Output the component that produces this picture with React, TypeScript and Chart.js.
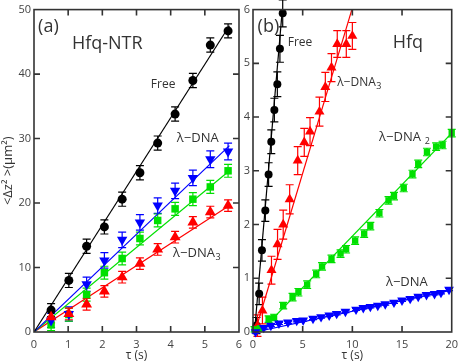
import React, { useEffect, useRef } from "react";
import { Chart, registerables } from "chart.js";
Chart.register(...registerables);

// ---------- Panel (a): Hfq-NTR ----------
const tauA = [0.5, 1.02, 1.54, 2.06, 2.58, 3.1, 3.62, 4.13, 4.65, 5.16, 5.68];
const freeA = [3.4, 8.0, 13.3, 16.3, 20.6, 24.7, 29.3, 33.8, 39.0, 44.5, 46.7];
const freeAErr = [1.0, 1.1, 1.1, 1.1, 1.1, 1.1, 1.1, 1.1, 1.1, 1.1, 1.1];
const dnaA = [1.8, 2.8, 7.4, 11.1, 14.3, 17.0, 19.6, 21.9, 23.9, 26.8, 28.0];
const dnaAErr = [1.1, 1.1, 1.1, 1.2, 1.2, 1.2, 1.2, 1.2, 1.2, 1.3, 1.3];
const dna2A = [1.1, 2.7, 5.8, 9.2, 11.4, 14.5, 17.3, 19.1, 20.6, 22.5, 25.0];
const dna2AErr = [0.9, 1.0, 1.0, 1.0, 1.0, 1.0, 1.0, 1.0, 1.0, 1.0, 1.0];
const dna3A = [2.3, 2.8, 4.3, 6.3, 8.5, 10.6, 12.8, 14.7, 17.0, 18.6, 19.6];
const dna3AErr = [0.9, 0.9, 0.9, 0.9, 0.9, 0.9, 0.9, 0.9, 0.9, 0.9, 0.9];
const fitXA = [0, 5.72];
const fitFreeA = [0, 47.5];
const fitDnaA = [0, 28.9];
const fitDna2A = [0, 25.0];
const fitDna3A = [0, 19.6];

// ---------- Panel (b): Hfq ----------
const tauFreeB = [0.35, 0.62, 0.9, 1.24, 1.57, 1.84, 2.15, 2.45, 2.71, 2.99];
const freeB = [0.12, 0.71, 1.52, 2.26, 2.93, 3.54, 4.13, 4.61, 5.27, 5.93];
const freeBErr = [0.15, 0.2, 0.2, 0.2, 0.22, 0.22, 0.22, 0.23, 0.25, 0.25];
const tauDna3B = [0.45, 0.95, 1.86, 2.47, 3.04, 3.69, 4.5, 5.16, 5.74, 6.69, 7.28, 7.9, 8.48, 9.39, 10.0];
const dna3B = [0.12, 0.4, 1.15, 1.63, 2.0, 2.47, 3.19, 3.53, 3.73, 4.1, 4.56, 4.92, 5.36, 5.36, 5.51];
const dna3BErr = [0.2, 0.25, 0.26, 0.28, 0.27, 0.27, 0.26, 0.26, 0.26, 0.27, 0.27, 0.26, 0.25, 0.25, 0.25];
const tauDna2B = [0.15, 0.7, 1.57, 2.12, 3.04, 3.98, 4.57, 5.45, 6.36, 6.95, 7.9, 8.81, 9.37, 10.28, 11.19, 11.81, 12.72, 13.64, 14.19, 15.17, 16.05, 16.63, 17.51, 18.43, 19.08, 20.0];
const dna2B = [0.05, 0.07, 0.24, 0.27, 0.49, 0.65, 0.74, 0.88, 1.08, 1.22, 1.36, 1.46, 1.54, 1.7, 1.83, 1.97, 2.21, 2.45, 2.53, 2.68, 2.94, 3.13, 3.35, 3.45, 3.48, 3.7];
const dna2BErr = [0.05, 0.05, 0.06, 0.06, 0.06, 0.07, 0.07, 0.07, 0.07, 0.07, 0.07, 0.07, 0.07, 0.07, 0.07, 0.07, 0.07, 0.07, 0.07, 0.07, 0.07, 0.07, 0.07, 0.07, 0.07, 0.07];
const tauDnaB = [0.26, 1.08, 1.8, 2.61, 3.52, 4.4, 5.05, 6.04, 6.85, 7.67, 8.42, 9.3, 10.37, 11.1, 11.81, 12.56, 13.31, 14.19, 15.0, 15.82, 16.63, 17.46, 18.27, 18.92, 19.73];
const dnaB = [0.0, 0.08, 0.12, 0.16, 0.18, 0.21, 0.22, 0.25, 0.28, 0.31, 0.34, 0.38, 0.42, 0.45, 0.47, 0.49, 0.52, 0.55, 0.59, 0.62, 0.66, 0.69, 0.71, 0.73, 0.79];
const dnaBErr = [0.02, 0.02, 0.02, 0.02, 0.02, 0.02, 0.02, 0.02, 0.02, 0.02, 0.02, 0.02, 0.02, 0.02, 0.02, 0.02, 0.02, 0.02, 0.02, 0.02, 0.02, 0.02, 0.02, 0.02, 0.02];
const fitXFreeB = [0.15, 2.95];
const fitFreeB = [0, 6];
const fitXDna3B = [0.2, 9.95];
const fitDna3B = [0, 6];
const fitXDna2B = [0.7, 20];
const fitDna2B = [0, 3.7];
const fitXDnaB = [0.2, 20];
const fitDnaB = [0, 0.78];

const BLACK = "#000000";
const BLUE = "#0000ff";
const GREEN = "#00e000";
const RED = "#ff0000";
const FRAME = "#333333";
const TEXT = "#333333";
const FONT = "'Open Sans', sans-serif";

const pts = (xs: number[], ys: number[]) => xs.map((x, i) => ({ x, y: ys[i] }));

function markers(label: string, xs: number[], ys: number[], err: number[], color: string, style: string, r: number, order: number, rotation = 0) {
  return {
    label, data: pts(xs, ys), errors: err, showLine: false,
    pointStyle: style, pointRadius: r, pointRotation: rotation,
    backgroundColor: color, borderColor: color, pointBorderWidth: 0,
    order, clip: false,
  } as any;
}
function fit(xs: number[], ys: number[], color: string) {
  return {
    label: "fit", data: pts(xs, ys), showLine: true, pointRadius: 0,
    borderColor: color, borderWidth: 1.2, order: 20, errors: null,
  } as any;
}

const errorBarPlugin = {
  id: "errbars",
  beforeDatasetsDraw(chart: any) {
    const { ctx } = chart;
    const xs = chart.scales.x, ys = chart.scales.y;
    chart.data.datasets.forEach((ds: any) => {
      if (!ds.errors) return;
      const cap = 4;
      ctx.save();
      ctx.strokeStyle = ds.borderColor;
      ctx.lineWidth = 1.2;
      ds.data.forEach((p: any, j: number) => {
        const x = xs.getPixelForValue(p.x);
        const y1 = ys.getPixelForValue(p.y - ds.errors[j]);
        const y2 = ys.getPixelForValue(p.y + ds.errors[j]);
        ctx.beginPath();
        ctx.moveTo(x, y1); ctx.lineTo(x, y2);
        ctx.moveTo(x - cap, y1); ctx.lineTo(x + cap, y1);
        ctx.moveTo(x - cap, y2); ctx.lineTo(x + cap, y2);
        ctx.stroke();
      });
      ctx.restore();
    });
  },
};

type Note = { text: string; sub?: string; x: number; y: number; size: number };

function framePlugin(notes: Note[]) {
  return {
    id: "frame",
    afterDraw(chart: any) {
      const { ctx, chartArea: a } = chart;
      const xs = chart.scales.x, ys = chart.scales.y;
      ctx.save();
      ctx.strokeStyle = FRAME;
      ctx.lineWidth = 1.6;
      ctx.strokeRect(a.left, a.top, a.right - a.left, a.bottom - a.top);
      const L = 6;
      ctx.beginPath();
      xs.ticks.forEach((t: any) => {
        const px = xs.getPixelForValue(t.value);
        if (px <= a.left + 1 || px >= a.right - 1) return;
        ctx.moveTo(px, a.bottom); ctx.lineTo(px, a.bottom - L);
        ctx.moveTo(px, a.top); ctx.lineTo(px, a.top + L);
      });
      ys.ticks.forEach((t: any) => {
        const py = ys.getPixelForValue(t.value);
        if (py <= a.top + 1 || py >= a.bottom - 1) return;
        ctx.moveTo(a.left, py); ctx.lineTo(a.left + L, py);
        ctx.moveTo(a.right, py); ctx.lineTo(a.right - L, py);
      });
      ctx.stroke();
      ctx.fillStyle = TEXT;
      ctx.textBaseline = "middle";
      ctx.textAlign = "left";
      notes.forEach((n) => {
        const px = xs.getPixelForValue(n.x);
        const py = ys.getPixelForValue(n.y);
        ctx.font = `${n.size}px ${FONT}`;
        ctx.fillText(n.text, px, py);
        if (n.sub) {
          const w = ctx.measureText(n.text).width;
          ctx.font = `${Math.round(n.size * 0.72)}px ${FONT}`;
          ctx.fillText(n.sub, px + w + 0.5, py + n.size * 0.3);
        }
      });
      ctx.restore();
    },
  };
}

function makeConfig(datasets: any[], xmax: number, xstep: number, ymax: number, ystep: number, yAxisWidth: number, padRight: number, yTitle: string | null, notes: Note[]) {
  const tickFont = { family: FONT, size: 11 };
  return {
    type: "scatter",
    data: { datasets },
    options: {
      responsive: false,
      animation: false,
      events: [],
      layout: { padding: { top: 7, right: padRight, bottom: 0, left: 0 } },
      plugins: { legend: { display: false }, tooltip: { enabled: false } },
      scales: {
        x: {
          type: "linear", min: 0, max: xmax,
          grid: { display: false, drawTicks: false },
          border: { display: false },
          ticks: { stepSize: xstep, padding: 6, color: "#444", font: tickFont, maxRotation: 0 },
          title: { display: true, text: "τ (s)", color: TEXT, font: { family: FONT, size: 12 }, padding: { top: 0, bottom: 0 } },
          afterFit: (s: any) => { s.height = 31; },
        },
        y: {
          type: "linear", min: 0, max: ymax,
          grid: { display: false, drawTicks: false },
          border: { display: false },
          ticks: { stepSize: ystep, padding: 3, color: "#444", font: tickFont },
          title: yTitle ? { display: true, text: yTitle, color: TEXT, font: { family: FONT, size: 13 }, padding: { top: 0, bottom: 0 } } : { display: false },
          afterFit: (s: any) => { s.width = yAxisWidth; },
        },
      },
    },
    plugins: [errorBarPlugin, framePlugin(notes)],
  } as any;
}

function Panel({ left, width, config }: { left: number; width: number; config: any }) {
  const ref = useRef<HTMLCanvasElement>(null);
  useEffect(() => {
    if (!ref.current) return;
    const c = new Chart(ref.current, config);
    return () => c.destroy();
  }, []);
  return (
    <canvas
      ref={ref}
      width={width}
      height={363}
      style={{ position: "absolute", left, top: 0, width, height: 363 }}
    />
  );
}

export default function App() {
  const dsA = [
    fit(fitXA, fitFreeA, BLACK),
    fit(fitXA, fitDnaA, BLUE),
    fit(fitXA, fitDna2A, GREEN),
    fit(fitXA, fitDna3A, RED),
    markers("Free", tauA, freeA, freeAErr, BLACK, "circle", 4.5, 2),
    markers("λ−DNA", tauA, dnaA, dnaAErr, BLUE, "triangle", 6, 3, 180),
    markers("λ−DNA2", tauA, dna2A, dna2AErr, GREEN, "rect", 5.3, 4),
    markers("λ−DNA3", tauA, dna3A, dna3AErr, RED, "triangle", 6.3, 1),
  ];
  const notesA: Note[] = [
    { text: "(a)", x: 0.12, y: 47.3, size: 18 },
    { text: "Hfq-NTR", x: 1.11, y: 44.7, size: 18 },
    { text: "Free", x: 3.42, y: 38.4, size: 12 },
    { text: "λ−DNA", x: 4.18, y: 30.0, size: 13 },
    { text: "λ−DNA", sub: "3", x: 4.07, y: 12.2, size: 13 },
  ];
  const dsB = [
    fit(fitXFreeB, fitFreeB, BLACK),
    fit(fitXDna3B, fitDna3B, RED),
    fit(fitXDna2B, fitDna2B, GREEN),
    fit(fitXDnaB, fitDnaB, BLUE),
    markers("Free", tauFreeB, freeB, freeBErr, BLACK, "circle", 4, 4),
    markers("λ−DNA3", tauDna3B, dna3B, dna3BErr, RED, "triangle", 5.8, 3),
    markers("λ−DNA2", tauDna2B, dna2B, dna2BErr, GREEN, "rect", 4.5, 2),
    markers("λ−DNA", tauDnaB, dnaB, dnaBErr, BLUE, "triangle", 5.6, 1, 180),
  ];
  const notesB: Note[] = [
    { text: "(b)", x: 0.46, y: 5.67, size: 18 },
    { text: "Free", x: 3.5, y: 5.39, size: 12 },
    { text: "Hfq", x: 14.06, y: 5.38, size: 18 },
    { text: "λ−DNA", sub: "3", x: 8.48, y: 4.64, size: 12 },
    { text: "λ−DNA ", sub: "2", x: 12.69, y: 3.62, size: 13 },
    { text: "λ−DNA", x: 13.38, y: 0.92, size: 13 },
  ];
  const cfgA = makeConfig(dsA, 6, 1, 50, 10, 34, 11, "<Δz² >(μm²)", notesA);
  const cfgB = makeConfig(dsB, 20, 5, 6, 1, 17, 6, null, notesB);
  return (
    <div style={{ position: "absolute", left: 0, top: 0, width: 464, height: 363, background: "#fff", overflow: "hidden" }}>
      <Panel left={0} width={250} config={cfgA} />
      <Panel left={236} width={228} config={cfgB} />
    </div>
  );
}
